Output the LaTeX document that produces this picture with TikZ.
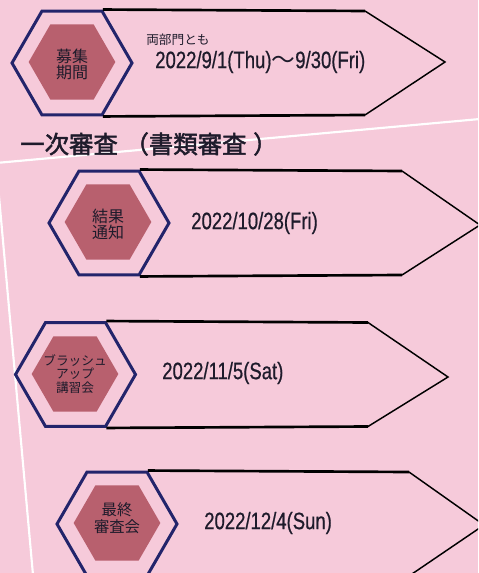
\documentclass[tikz,border=0pt]{standalone}
\usepackage{fontspec}
\setmainfont{Noto Sans CJK JP}
\newfontfamily\jpfont{Noto Sans CJK JP}
\newfontfamily\headfont{Noto Sans CJK JP}[FakeBold=2]
\newfontfamily\datefont{Liberation Sans}[FakeStretch=0.78, FakeBold=0.6]
\usetikzlibrary{shapes.geometric, positioning}
\definecolor{bgpink}{HTML}{F6CADA}
\definecolor{hexred}{HTML}{B8606E}
\definecolor{hexnavy}{HTML}{23246B}
\definecolor{inkdark}{HTML}{1E1B2B}
\tikzset{
    outerhex/.style={regular polygon, regular polygon sides=6, draw=hexnavy, line width=2.25pt, minimum size=90pt, inner sep=0pt},
    innerhex/.style={regular polygon, regular polygon sides=6, fill=hexred, minimum size=65pt, inner sep=0pt},
    steplabel/.style={align=center, inner sep=0pt, text=inkdark, font=\fontsize{12}{12}\selectfont},
    datetext/.style={anchor=west, inner sep=0pt, text=inkdark, font=\datefont\fontsize{17.8}{20}\selectfont},
    band/.style={line width=2pt},
    bandtip/.style={line width=1.1pt, line join=miter},
    divider/.style={draw=white, line width=1.6pt}
}

\begin{document}
\begin{tikzpicture}[x=0.75pt, y=-0.75pt]
        \clip (0,0) rectangle (478,573);
        \fill[bgpink] (0,0) rectangle (478,573);

        % white dividers
        \draw[divider] (-4,163) -- (480,119);
        \draw[divider] (-4,163) -- (33,575);

        % Step 1
        \node (O1) [outerhex] at (72,63) {};
        \node (I1) [innerhex] at (72,62) {};
        \node (L1) [steplabel] at (72,64) {募集\\期間};
        \coordinate (S1t) at (365,11);
        \coordinate (S1b) at (365,115);
        \coordinate (Tip1) at (445,62);
        \draw[band] (O1.corner 1) -- (S1t);
        \draw[band] (O1.corner 5) -- (S1b);
        \draw[bandtip] (S1t) -- (Tip1) -- (S1b);
        \node (Both) [anchor=west, inner sep=0pt, text=inkdark, font=\fontsize{9.5}{10}\selectfont] at (146,40) {両部門とも};
        \node (D1) [datetext] at (155,62) {2022/9/1(Thu){\jpfont 〜}9/30(Fri)};

        % Heading
        \node (Head) [anchor=west, inner sep=0pt, text=inkdark, font=\headfont\fontsize{18.3}{20}\selectfont] at (20,144) {一次審査\kern5pt（書類審査\kern5pt）};

        % Step 2
        \node (O2) [outerhex] at (109,223) {};
        \node (I2) [innerhex] at (108,222) {};
        \node (L2) [steplabel] at (108,224) {結果\\通知};
        \coordinate (S2t) at (402,171);
        \coordinate (S2b) at (402,275);
        \coordinate (Tip2) at (480,225);
        \draw[band] (O2.corner 1) -- (S2t);
        \draw[band] (O2.corner 5) -- (S2b);
        \draw[bandtip] (S2t) -- (Tip2) -- (S2b);
        \node (D2) [datetext] at (191,223) {2022/10/28(Fri)};

        % Step 3
        \node (O3) [outerhex] at (75.5,374.5) {};
        \node (I3) [innerhex] at (75,374) {};
        \node (L3) [steplabel, font=\fontsize{9.5}{10}\selectfont] at (75,374) {ブラッシュ\\アップ\\講習会};
        \coordinate (S3t) at (368,322.5);
        \coordinate (S3b) at (368,426.5);
        \coordinate (Tip3) at (448,377);
        \draw[band] (O3.corner 1) -- (S3t);
        \draw[band] (O3.corner 5) -- (S3b);
        \draw[bandtip] (S3t) -- (Tip3) -- (S3b);
        \node (D3) [datetext] at (162,373) {2022/11/5(Sat)};

        % Step 4
        \node (O4) [outerhex] at (117,524) {};
        \node (I4) [innerhex] at (117,523) {};
        \node (L4) [steplabel, font=\fontsize{11.5}{13}\selectfont] at (117,518) {最終\\審査会};
        \coordinate (S4t) at (409,472);
        \coordinate (S4b) at (409,576);
        \coordinate (Tip4) at (484,525);
        \draw[band] (O4.corner 1) -- (S4t);
        \draw[band] (O4.corner 5) -- (S4b);
        \draw[bandtip] (S4t) -- (Tip4) -- (S4b);
        \node (D4) [datetext] at (204,523) {2022/12/4(Sun)};

    \end{tikzpicture}
\end{document}
